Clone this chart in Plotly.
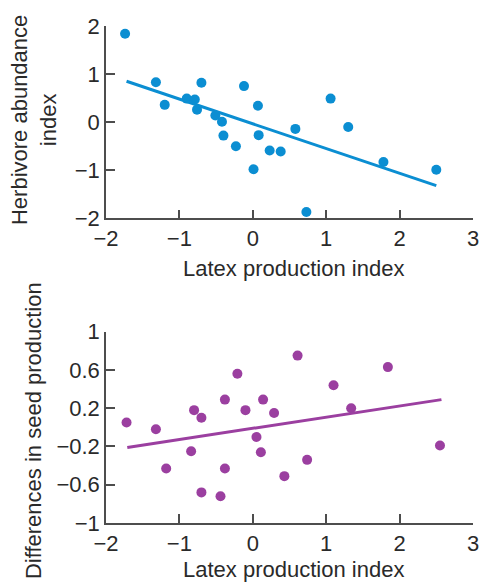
import plotly.graph_objects as go

# Top panel: herbivore abundance vs latex production
latex_top = [-1.74, -1.32, -1.20, -0.90, -0.79, -0.76, -0.70, -0.51, -0.42, -0.40, -0.23, -0.12,
             0.01, 0.07, 0.08, 0.23, 0.38, 0.58, 0.73, 1.06, 1.30, 1.78, 2.50]
herbivore = [1.84, 0.83, 0.36, 0.49, 0.47, 0.26, 0.82, 0.14, 0.01, -0.28, -0.50, 0.75,
             -0.98, 0.34, -0.27, -0.59, -0.61, -0.14, -1.87, 0.49, -0.10, -0.83, -0.99]
fit_top_x = [-1.72, 2.50]
fit_top_y = [0.85, -1.32]

# Bottom panel: differences in seed production vs latex production
latex_bot = [-1.72, -1.32, -1.18, -0.84, -0.80, -0.70, -0.70, -0.44, -0.38, -0.38, -0.21, -0.10,
             0.05, 0.11, 0.14, 0.29, 0.43, 0.61, 0.74, 1.10, 1.34, 1.84, 2.55]
seed_diff = [0.05, -0.02, -0.43, -0.25, 0.18, 0.10, -0.68, -0.72, 0.29, -0.43, 0.56, 0.18,
             -0.10, -0.26, 0.29, 0.15, -0.51, 0.75, -0.34, 0.44, 0.20, 0.63, -0.19]
fit_bot_x = [-1.71, 2.57]
fit_bot_y = [-0.21, 0.29]

x_ticks = [-2, -1, 0, 1, 2, 3]
y_ticks_top = [-2, -1, 0, 1, 2]
y_ticks_bot = [-1, -0.6, -0.2, 0.2, 0.6, 1]


def fmt(v):
    s = ("%g" % v)
    return s.replace("-", "\u2212")


BLUE = "#0b8ed2"
PURPLE = "#9b3fa0"
AXIS = "#4d4d4d"
TEXT = "#2a2a2a"
FONT = "Liberation Sans, Arial, sans-serif"

fig = go.Figure()
fig.add_trace(go.Scatter(x=latex_top, y=herbivore, mode="markers",
                         marker=dict(color=BLUE, size=10), xaxis="x", yaxis="y"))
fig.add_trace(go.Scatter(x=fit_top_x, y=fit_top_y, mode="lines",
                         line=dict(color=BLUE, width=3), xaxis="x", yaxis="y"))
fig.add_trace(go.Scatter(x=latex_bot, y=seed_diff, mode="markers",
                         marker=dict(color=PURPLE, size=10), xaxis="x2", yaxis="y2"))
fig.add_trace(go.Scatter(x=fit_bot_x, y=fit_bot_y, mode="lines",
                         line=dict(color=PURPLE, width=3), xaxis="x2", yaxis="y2"))

axis_common = dict(showline=True, linecolor=AXIS, linewidth=1.5, ticks="inside",
                   ticklen=9, tickwidth=1.5, tickcolor=AXIS, showgrid=False,
                   zeroline=False, automargin=False,
                   tickfont=dict(size=22, color=TEXT, family=FONT))

top_dom = [(523 - 218.3) / 497, 1.0]
bot_dom = [0.0, (523 - 331.7) / 497]

fig.update_layout(
    width=480, height=583,
    margin=dict(l=106, r=7, t=26, b=60),
    paper_bgcolor="white", plot_bgcolor="white",
    showlegend=False,
    font=dict(family=FONT, color=TEXT, size=22),
    xaxis=dict(range=[-2, 3], tickvals=x_ticks, ticktext=[fmt(v) for v in x_ticks],
               anchor="y", domain=[0, 1], **axis_common),
    yaxis=dict(range=[-2, 2], tickvals=y_ticks_top, ticktext=[fmt(v) for v in y_ticks_top],
               anchor="x", domain=top_dom, **axis_common),
    xaxis2=dict(range=[-2, 3], tickvals=x_ticks, ticktext=[fmt(v) for v in x_ticks],
                anchor="y2", domain=[0, 1], **axis_common),
    yaxis2=dict(range=[-1, 1], tickvals=y_ticks_bot, ticktext=[fmt(v) for v in y_ticks_bot],
                anchor="x2", domain=bot_dom, **axis_common),
    annotations=[
        dict(text="Latex production index", xref="paper", yref="paper",
             x=(293.8 - 106) / 367.3, y=(523 - 268) / 497, showarrow=False,
             xanchor="center", yanchor="middle", font=dict(size=22, color=TEXT)),
        dict(text="Latex production index", xref="paper", yref="paper",
             x=(293.8 - 106) / 367.3, y=(523 - 569.5) / 497, showarrow=False,
             xanchor="center", yanchor="middle", font=dict(size=22, color=TEXT)),
        dict(text="Herbivore abundance<br>index", xref="paper", yref="paper",
             x=(34 - 106) / 367.3, y=(523 - 120) / 497, showarrow=False, textangle=-90,
             xanchor="center", yanchor="middle", font=dict(size=22, color=TEXT)),
        dict(text="Differences in seed production", xref="paper", yref="paper",
             x=(33 - 106) / 367.3, y=(523 - 431) / 497, showarrow=False, textangle=-90,
             xanchor="center", yanchor="middle", font=dict(size=22, color=TEXT)),
    ],
)

fig.write_html("out.html",
               config={"displayModeBar": False},
               post_script="document.body.style.margin='0';document.body.style.overflow='hidden';")
